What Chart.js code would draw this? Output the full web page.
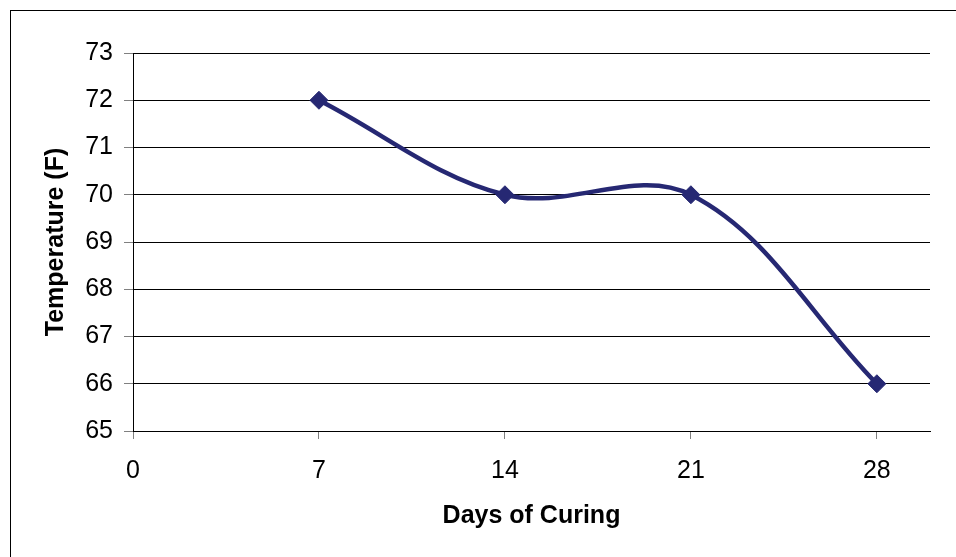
<!DOCTYPE html>
<html>
<head>
<meta charset="utf-8">
<script src="https://cdn.jsdelivr.net/npm/chart.js@4/dist/chart.umd.min.js"></script>
<style>
html,body{margin:0;padding:0;background:#fff;}
canvas{display:block;background:#fff;}
</style>
</head>
<body>
<canvas id="c" width="956" height="557"></canvas>
<script>
const days = [7, 14, 21, 28];
const temperature = [72, 70, 70, 66];
const xTicks = [0, 7, 14, 21, 28];
const yTicks = [65, 66, 67, 68, 69, 70, 71, 72, 73];

const FONT = "'Liberation Sans', Arial, sans-serif";

const frame = {
  id: 'frame',
  afterDraw(chart) {
    const ctx = chart.ctx;
    ctx.save();
    ctx.strokeStyle = '#000';
    ctx.lineWidth = 1;
    ctx.strokeRect(10.5, 10.5, 2000, 2000);
    ctx.restore();
  }
};

new Chart(document.getElementById('c'), {
  type: 'line',
  data: {
    datasets: [{
      data: days.map((d, i) => ({x: d, y: temperature[i]})),
      borderColor: '#262873',
      backgroundColor: '#262873',
      borderWidth: 4.5,
      tension: 0.36,
      pointStyle: 'rectRot',
      pointRadius: 9,
      pointBorderWidth: 1,
      pointBorderColor: '#262873',
      pointBackgroundColor: '#262873',
      fill: false
    }]
  },
  options: {
    responsive: false,
    animation: false,
    events: [],
    layout: {padding: {left: 0, top: 53, right: 26, bottom: 0}},
    plugins: {legend: {display: false}, tooltip: {enabled: false}},
    scales: {
      x: {
        type: 'linear',
        min: 0,
        max: 30,
        afterBuildTicks: (axis) => { axis.ticks = xTicks.map(v => ({value: v})); },
        afterFit: (scale) => { scale.height = 126; },
        grid: {drawOnChartArea: false, drawTicks: true, tickLength: 8, color: '#808080', tickColor: '#808080'},
        border: {display: true, color: '#000', width: 1},
        ticks: {color: '#000', font: {family: FONT, size: 25}, padding: 17, maxRotation: 0, autoSkip: false},
        title: {display: true, text: 'Days of Curing', color: '#000', font: {family: FONT, size: 25, weight: 'bold'}, padding: {top: 0, bottom: 26}}
      },
      y: {
        type: 'linear',
        min: 65,
        max: 73,
        afterBuildTicks: (axis) => { axis.ticks = yTicks.map(v => ({value: v})); },
        afterFit: (scale) => { scale.width = 133; },
        grid: {color: '#000', lineWidth: 1, drawTicks: true, tickLength: 9, tickColor: '#808080'},
        border: {display: true, color: '#000', width: 1},
        ticks: {color: '#000', font: {family: FONT, size: 25}, padding: 11, autoSkip: false},
        title: {display: true, text: 'Temperature (F)', color: '#000', font: {family: FONT, size: 25, weight: 'bold'}, padding: {top: 41, bottom: 0}}
      }
    }
  },
  plugins: [frame]
});
</script>
</body>
</html>
